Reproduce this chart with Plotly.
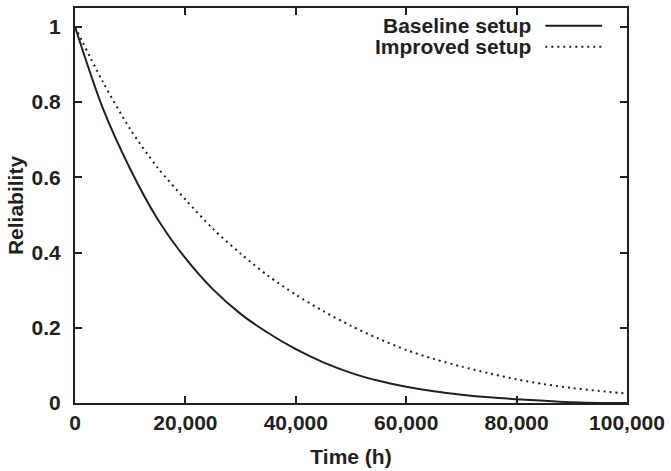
import plotly.graph_objects as go

time_h = [0, 5000, 10000, 15000, 20000, 25000, 30000, 35000, 40000, 45000, 50000,
          55000, 60000, 65000, 70000, 75000, 80000, 85000, 90000, 95000, 100000]
baseline = [1.0, 0.785, 0.622, 0.488, 0.385, 0.302, 0.237, 0.186, 0.143, 0.108, 0.080,
            0.059, 0.043, 0.031, 0.022, 0.015, 0.010, 0.006, 0.002, 0.0, 0.0]
improved = [1.0, 0.855, 0.728, 0.625, 0.541, 0.463, 0.397, 0.338, 0.288, 0.244, 0.205,
            0.171, 0.141, 0.117, 0.097, 0.079, 0.063, 0.050, 0.040, 0.032, 0.025]
series_names = ["Baseline setup", "Improved setup"]
x_ticks = [0, 20000, 40000, 60000, 80000, 100000]
x_ticklabels = ["0", "20,000", "40,000", "60,000", "80,000", "100,000"]
y_ticks = [0, 0.2, 0.4, 0.6, 0.8, 1.0]
y_ticklabels = ["0", "0.2", "0.4", "0.6", "0.8", "1"]

INK = "#231f20"
FONT = "Liberation Sans"
FS = 21
DOT = "2px,4px"

fig = go.Figure()
fig.add_trace(go.Scatter(x=time_h, y=baseline, mode="lines", name=series_names[0],
                         line=dict(color=INK, width=2, shape="spline", smoothing=0.8),
                         showlegend=False))
fig.add_trace(go.Scatter(x=time_h, y=improved, mode="lines", name=series_names[1],
                         line=dict(color=INK, width=2, dash=DOT, shape="spline", smoothing=0.8),
                         showlegend=False))

axis_common = dict(showline=True, linecolor=INK, linewidth=2, mirror="ticks",
                   ticks="inside", ticklen=7, tickwidth=2, tickcolor=INK,
                   showgrid=False, zeroline=False,
                   tickfont=dict(family=FONT, size=FS, color=INK, weight="bold"))

fig.update_xaxes(range=[0, 100000], tickvals=x_ticks, ticktext=x_ticklabels,
                 ticklabelstandoff=0,
                 title=dict(text="Time (h)", standoff=16,
                            font=dict(family=FONT, size=FS, color=INK, weight="bold")),
                 **axis_common)
fig.update_yaxes(range=[0, 1.05], tickvals=y_ticks, ticktext=y_ticklabels,
                 ticklabelstandoff=8,
                 title=dict(text="Reliability", standoff=2,
                            font=dict(family=FONT, size=FS, color=INK, weight="bold")),
                 **axis_common)

# legend (text on the left, line sample on the right, as in the reference)
leg_y = [0.9548, 0.902]
for name, yy, dash in zip(series_names, leg_y, ["solid", DOT]):
    fig.add_annotation(xref="paper", yref="paper", x=0.83, y=yy, text=name,
                       showarrow=False, xanchor="right", yanchor="middle",
                       font=dict(family=FONT, size=FS, color=INK, weight="bold"))
    fig.add_shape(type="line", xref="paper", yref="paper", x0=0.852, x1=0.955,
                  y0=yy, y1=yy, line=dict(color=INK, width=2, dash=dash))

fig.update_layout(width=671, height=471,
                  margin=dict(l=75, r=41, t=6, b=67),
                  paper_bgcolor="white", plot_bgcolor="white",
                  font=dict(family=FONT, color=INK))

fig.write_html("out.html")
